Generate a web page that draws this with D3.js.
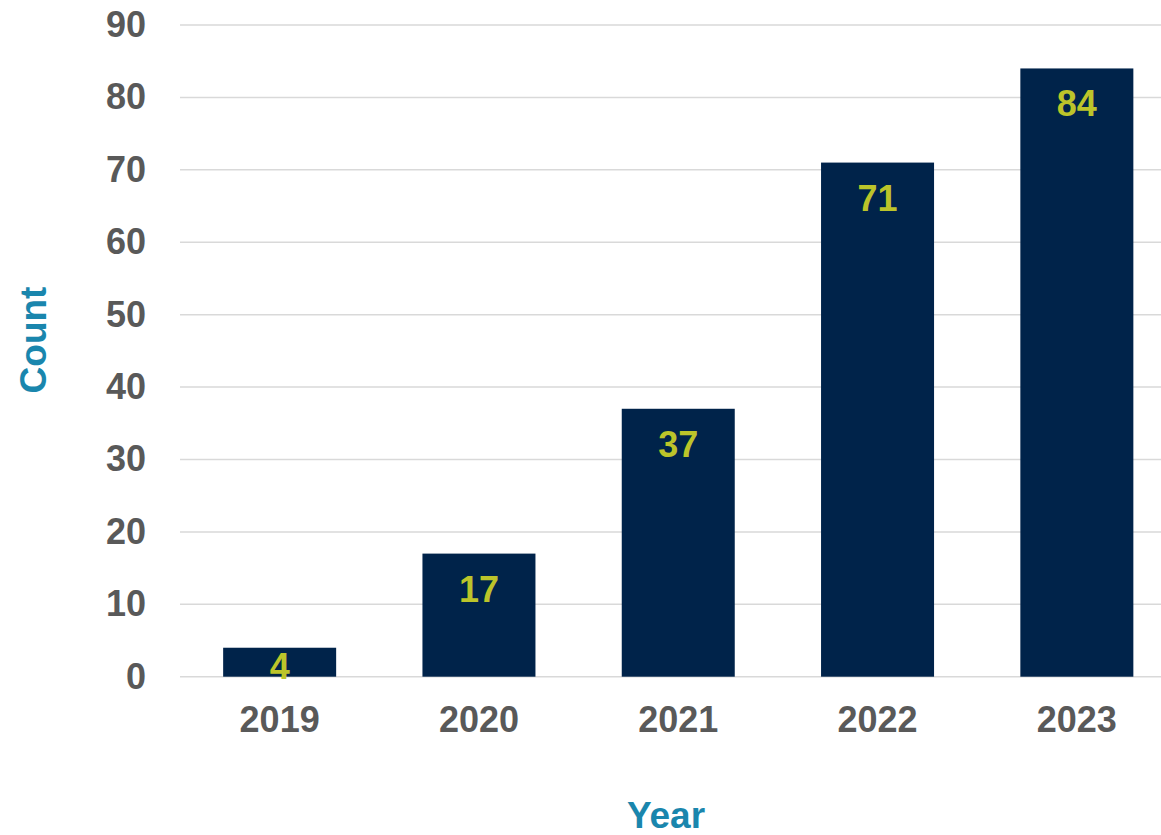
<!DOCTYPE html>
<html>
<head>
<meta charset="utf-8">
<script src="https://cdn.jsdelivr.net/npm/d3@7"></script>
<style>
  html, body { margin: 0; padding: 0; background: #ffffff; }
  svg { display: block; }
</style>
</head>
<body>
<svg id="chart" width="1161" height="835"></svg>
<script>
const years = ["2019", "2020", "2021", "2022", "2023"];
const counts = [4, 17, 37, 71, 84];
const yTicks = [0, 10, 20, 30, 40, 50, 60, 70, 80, 90];
const xTitle = "Year";
const yTitle = "Count";

const svg = d3.select("#chart");
const W = 1161, H = 835;

const x = d3.scaleBand()
  .domain(years)
  .range([180, 1176.5])
  .paddingInner(0.433)
  .paddingOuter(0.2165);

const y = d3.scaleLinear()
  .domain([0, 90])
  .range([676.7, 25]);

const font = "'Liberation Sans', Arial, sans-serif";

// gridlines
svg.append("g")
  .selectAll("line")
  .data(yTicks)
  .join("line")
  .attr("x1", 180)
  .attr("x2", W)
  .attr("y1", d => y(d))
  .attr("y2", d => y(d))
  .attr("stroke", "#d9d9d9")
  .attr("stroke-width", 1.5);

// y axis
const yAxis = svg.append("g")
  .attr("transform", "translate(180,0)")
  .call(d3.axisLeft(y).tickValues(yTicks).tickSize(0).tickPadding(34));
yAxis.select(".domain").remove();
yAxis.selectAll("text")
  .attr("fill", "#595959")
  .style("font-family", font)
  .style("font-weight", "bold")
  .style("font-size", "36px");

// x axis
const xAxis = svg.append("g")
  .attr("transform", `translate(0,${y(0)})`)
  .call(d3.axisBottom(x).tickSize(0).tickPadding(30));
xAxis.select(".domain").remove();
xAxis.selectAll("text")
  .attr("fill", "#595959")
  .style("font-family", font)
  .style("font-weight", "bold")
  .style("font-size", "36px");

// bars
const data = years.map((yr, i) => ({ year: yr, value: counts[i] }));
svg.append("g")
  .selectAll("rect")
  .data(data)
  .join("rect")
  .attr("x", d => x(d.year))
  .attr("width", x.bandwidth())
  .attr("y", d => y(d.value))
  .attr("height", d => y(0) - y(d.value))
  .attr("fill", "#00234a");

// data labels
svg.append("g")
  .selectAll("text")
  .data(data)
  .join("text")
  .attr("x", d => x(d.year) + x.bandwidth() / 2)
  .attr("y", d => Math.min(y(d.value) + 48, y(0) + 2))
  .attr("text-anchor", "middle")
  .attr("fill", "#bcc42a")
  .style("font-family", font)
  .style("font-weight", "bold")
  .style("font-size", "36px")
  .text(d => d.value);

// axis titles
svg.append("text")
  .attr("x", 666)
  .attr("y", 828)
  .attr("text-anchor", "middle")
  .attr("fill", "#1a86ad")
  .style("font-family", font)
  .style("font-weight", "bold")
  .style("font-size", "37px")
  .text(xTitle);

svg.append("text")
  .attr("transform", "translate(46,340) rotate(-90)")
  .attr("text-anchor", "middle")
  .attr("fill", "#1a86ad")
  .style("font-family", font)
  .style("font-weight", "bold")
  .style("font-size", "37px")
  .text(yTitle);
</script>
</body>
</html>
